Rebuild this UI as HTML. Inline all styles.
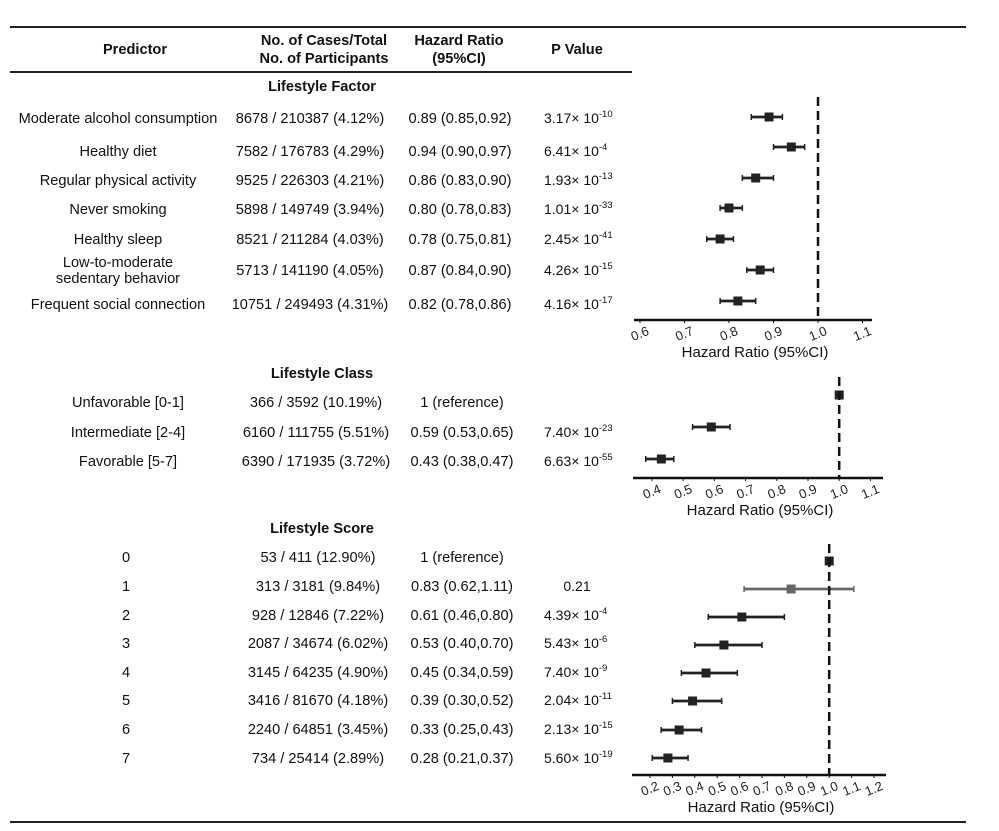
<!DOCTYPE html>
<html><head><meta charset="utf-8"><style>
body{margin:0;background:#fff;}
svg{display:block;font-family:"Liberation Sans",Arial,sans-serif;}
</style></head><body>
<svg id="fig" width="999" height="831" viewBox="0 0 999 831"></svg>
<script>
const factorLabels=[["Moderate alcohol consumption"],["Healthy diet"],["Regular physical activity"],["Never smoking"],["Healthy sleep"],["Low-to-moderate","sedentary behavior"],["Frequent social connection"]];
const factorCases=["8678 / 210387 (4.12%)","7582 / 176783 (4.29%)","9525 / 226303 (4.21%)","5898 / 149749 (3.94%)","8521 / 211284 (4.03%)","5713 / 141190 (4.05%)","10751 / 249493 (4.31%)"];
const factorHR=[0.89,0.94,0.86,0.80,0.78,0.87,0.82];
const factorLo=[0.85,0.90,0.83,0.78,0.75,0.84,0.78];
const factorHi=[0.92,0.97,0.90,0.83,0.81,0.90,0.86];
const factorP=[["3.17","-10"],["6.41","-4"],["1.93","-13"],["1.01","-33"],["2.45","-41"],["4.26","-15"],["4.16","-17"]];
const factorTicks=[0.6,0.7,0.8,0.9,1.0,1.1];

const classLabels=[["Unfavorable [0-1]"],["Intermediate [2-4]"],["Favorable [5-7]"]];
const classCases=["366 / 3592 (10.19%)","6160 / 111755 (5.51%)","6390 / 171935 (3.72%)"];
const classHR=[1,0.59,0.43];
const classLo=[1,0.53,0.38];
const classHi=[1,0.65,0.47];
const classP=[null,["7.40","-23"],["6.63","-55"]];
const classTicks=[0.4,0.5,0.6,0.7,0.8,0.9,1.0,1.1];

const scoreLabels=[["0"],["1"],["2"],["3"],["4"],["5"],["6"],["7"]];
const scoreCases=["53 / 411 (12.90%)","313 / 3181 (9.84%)","928 / 12846 (7.22%)","2087 / 34674 (6.02%)","3145 / 64235 (4.90%)","3416 / 81670 (4.18%)","2240 / 64851 (3.45%)","734 / 25414 (2.89%)"];
const scoreHR=[1,0.83,0.61,0.53,0.45,0.39,0.33,0.28];
const scoreLo=[1,0.62,0.46,0.40,0.34,0.30,0.25,0.21];
const scoreHi=[1,1.11,0.80,0.70,0.59,0.52,0.43,0.37];
const scoreP=[null,["0.21",null],["4.39","-4"],["5.43","-6"],["7.40","-9"],["2.04","-11"],["2.13","-15"],["5.60","-19"]];
const scoreTicks=[0.2,0.3,0.4,0.5,0.6,0.7,0.8,0.9,1.0,1.1,1.2];

const svg=document.getElementById('fig');
const NS='http://www.w3.org/2000/svg';
function mk(tag,attrs,parent){const e=document.createElementNS(NS,tag);for(const k in attrs)e.setAttribute(k,attrs[k]);(parent||svg).appendChild(e);return e;}
function txt(x,y,s,opt){opt=opt||{};const t=mk('text',{x:x,y:y,'font-size':opt.size||14.6,'text-anchor':opt.anchor||'middle','font-weight':opt.bold?'bold':'normal',fill:opt.fill||'#111'});t.textContent=s;return t;}

let r=mk('line',{x1:10,y1:27,x2:966,y2:27,stroke:'#222','stroke-width':2});

r=mk('line',{x1:10,y1:72,x2:632,y2:72,stroke:'#222','stroke-width':2});

r=mk('line',{x1:10,y1:822,x2:966,y2:822,stroke:'#222','stroke-width':2});


let h=txt(135,54,'Predictor',{bold:true});
h=txt(324,45,'No. of Cases/Total',{bold:true});
h=txt(324,63,'No. of Participants',{bold:true});
h=txt(459,45,'Hazard Ratio',{bold:true});
h=txt(459,63,'(95%CI)',{bold:true});
h=txt(577,54,'P Value',{bold:true});

function panel(cfg){
  const sx=v=>cfg.x0+(v-cfg.v0)*cfg.k*10;
  let t=txt(cfg.titleX,cfg.titleY,cfg.title,{bold:true});
  
  cfg.labels.forEach((lab,i)=>{
    const ty=cfg.textY[i];
    if(lab.length===1){t=txt(cfg.labelX,ty,lab[0]);}
    else{t=txt(cfg.labelX,ty-8,lab[0]);const t2=txt(cfg.labelX,ty+8,lab[1]);}
    
    t=txt(cfg.casesX,ty,cfg.cases[i]);
    
    const hrs=(cfg.hr[i]===1&&cfg.lo[i]===1)?'1 (reference)':cfg.hr[i].toFixed(2)+' ('+cfg.lo[i].toFixed(2)+','+cfg.hi[i].toFixed(2)+')';
    t=txt(cfg.hrX,ty,hrs);
    
    const p=cfg.p[i];
    if(p){
      t=mk('text',{x:cfg.pX,y:ty,'font-size':14,'text-anchor':p[1]?'start':'middle',fill:'#111'});
      if(p[1]){t.setAttribute('x',cfg.pX-33);t.textContent=p[0]+'\u00d7 10';const s=mk('tspan',{dy:-6,'font-size':9.5},t);s.textContent=p[1];}
      else t.textContent=p[0];
      
    }
    const my=cfg.markY[i];const col=cfg.grey&&cfg.grey[i]?'#666':'#222';
    const l=mk('line',{x1:sx(cfg.lo[i]),x2:sx(cfg.hi[i]),y1:my,y2:my,stroke:col,'stroke-width':2.8});
    
    [cfg.lo[i],cfg.hi[i]].forEach(v=>{const c=mk('line',{x1:sx(v),x2:sx(v),y1:my-3,y2:my+3,stroke:col,'stroke-width':1.5});});
    const sq=mk('rect',{x:sx(cfg.hr[i])-4.5,y:my-4.5,width:9,height:9,fill:col});
    
  });
  let ref=mk('line',{x1:sx(1),x2:sx(1),y1:cfg.refTop,y2:cfg.axisY,stroke:'#111','stroke-width':2.5,'stroke-dasharray':'9,5'});
  
  let ax=mk('line',{x1:cfg.axL,x2:cfg.axR,y1:cfg.axisY,y2:cfg.axisY,stroke:'#111','stroke-width':2.5});
  
  cfg.ticks.forEach(v=>{
    const tk=mk('line',{x1:sx(v),x2:sx(v),y1:cfg.axisY,y2:cfg.axisY+3,stroke:'#111','stroke-width':1});
    
    const tl=mk('text',{x:sx(v),y:cfg.axisY+18,'font-size':13,'text-anchor':'middle',fill:'#222',transform:'rotate(-22 '+sx(v)+' '+(cfg.axisY+14)+')'});
    tl.textContent=v.toFixed(1);
    
  });
  t=txt((cfg.axL+cfg.axR)/2+2,cfg.axisY+37,'Hazard Ratio (95%CI)',{size:15});
  
}

panel({id:'factor',title:'Lifestyle Factor',titleX:322,titleY:91,labels:factorLabels,cases:factorCases,hr:factorHR,lo:factorLo,hi:factorHi,p:factorP,
  textY:[123,156,185,214,244,275,309],markY:[117,147,178,208,239,270,301],labelX:118,casesX:310,hrX:460,pX:577,
  x0:640,v0:0.6,k:44.5,axisY:320,axL:634,axR:872,refTop:97,ticks:factorTicks});
panel({id:'class',title:'Lifestyle Class',titleX:322,titleY:378,labels:classLabels,cases:classCases,hr:classHR,lo:classLo,hi:classHi,p:classP,
  textY:[407,437,466],markY:[395,427,459],labelX:128,casesX:316,hrX:462,pX:577,
  x0:652,v0:0.4,k:31.2,axisY:478,axL:633,axR:883,refTop:377,ticks:classTicks});
panel({id:'score',title:'Lifestyle Score',titleX:322,titleY:533,labels:scoreLabels,cases:scoreCases,hr:scoreHR,lo:scoreLo,hi:scoreHi,p:scoreP,grey:[false,true],
  textY:[562,591,620,648,677,705,734,763],markY:[561,589,617,645,673,701,730,758],labelX:126,casesX:318,hrX:462,pX:577,
  x0:650,v0:0.2,k:22.4,axisY:775,axL:632,axR:886,refTop:544,ticks:scoreTicks});
</script>
</body></html>
